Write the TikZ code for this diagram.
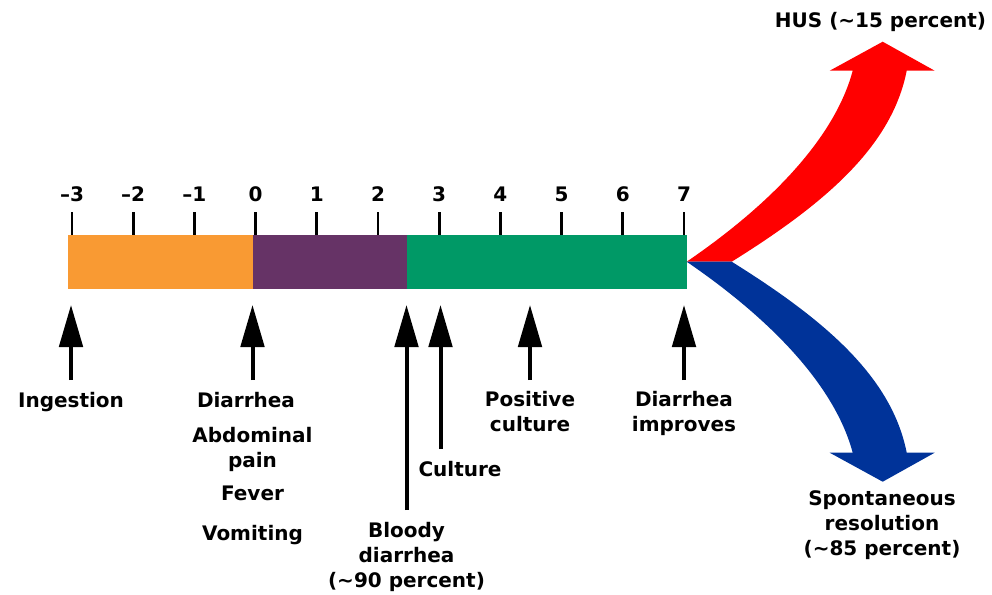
\documentclass[tikz,border=0pt]{standalone}
\usepackage{fontspec}
\setmainfont{DejaVu Sans}
\usepackage{xcolor}
\usepackage{tikz}
\usetikzlibrary{arrows.meta, positioning}

\definecolor{incubation}{HTML}{F99A33}
\definecolor{illness}{HTML}{663366}
\definecolor{recovery}{HTML}{009966}
\definecolor{husred}{HTML}{FF0000}
\definecolor{resblue}{HTML}{003399}

\begin{document}
\begin{tikzpicture}[
        x=0.75pt, y=-0.75pt,
        day/.style={font=\bfseries\fontsize{15}{18.4}\selectfont, inner sep=0pt, anchor=base},
        event/.style={font=\bfseries\fontsize{15}{18.4}\selectfont, align=center, inner sep=0pt, anchor=base},
        tickmark/.style={line width=2.2pt},
        uparrow/.style={line width=3pt, -{Triangle[length=31.5pt, width=17.5pt]}}
    ]
        \useasboundingbox (0,0) rectangle (992,594);

        % timeline bar
        \fill[incubation] (68,235) rectangle (253,288.5);
        \fill[illness] (253,235) rectangle (406.5,288.5);
        \fill[recovery] (406.5,235) rectangle (686.7,288.5);

        \foreach \n in {-3,...,7} {
            \pgfmathsetmacro{\xd}{72+61.2*(\n+3)}
            \node[day] (day\n) at (\xd,201.5) {\ifnum\n<0 –\number\numexpr-\n\relax\else\n\fi};
            \draw[tickmark] (\xd,212) -- (\xd,235);
        }

        % events below the bar (multi-line labels sit on their last line)
        \coordinate (ingest_tail) at (71,380);
        \coordinate (ingest_tip) at (71,305);
        \coordinate (onset_tail) at (252.5,380);
        \coordinate (onset_tip) at (252.5,305);
        \coordinate (bloody_tail) at (406.5,510);
        \coordinate (bloody_tip) at (406.5,305);
        \coordinate (culture_tail) at (440.5,449);
        \coordinate (culture_tip) at (440.5,305);
        \coordinate (positive_tail) at (530,380);
        \coordinate (positive_tip) at (530,305);
        \coordinate (improve_tail) at (684,380);
        \coordinate (improve_tip) at (684,305);

        \node[event] (ingestion) at (71,407) {Ingestion};
        \node[event] (diarrhea) at (246,407) {Diarrhea};
        \node[event] (abdominal) at (252.5,467) {Abdominal\\pain};
        \node[event] (fever) at (252.5,500) {Fever};
        \node[event] (vomiting) at (252.5,540) {Vomiting};
        \node[event] (bloody) at (406.5,587) {Bloody\\diarrhea\\(\char"007E 90 percent)};
        \node[event] (culture) at (460,476) {Culture};
        \node[event] (positive) at (530,431) {Positive\\culture};
        \node[event] (improves) at (684,431) {Diarrhea\\improves};

        \draw[uparrow] (ingest_tail) -- (ingest_tip);
        \draw[uparrow] (onset_tail) -- (onset_tip);
        \draw[uparrow] (bloody_tail) -- (bloody_tip);
        \draw[uparrow] (culture_tail) -- (culture_tip);
        \draw[uparrow] (positive_tail) -- (positive_tip);
        \draw[uparrow] (improve_tail) -- (improve_tip);

        % outcomes
        \coordinate (fork) at (686.7,261.7);
        \begin{scope}[shift={(fork)}]
            \fill[husred] (0,0) -- (45,0) .. controls (138,-58) and (205,-115) .. (220,-191)
                -- (248,-191) -- (196,-220) -- (143,-191) -- (166,-191)
                .. controls (150,-131) and (95,-65) .. (0,0) -- cycle;
        \end{scope}
        \begin{scope}[shift={(fork)}, yscale=-1]
            \fill[resblue] (0,0) -- (45,0) .. controls (138,-58) and (205,-115) .. (220,-191)
                -- (248,-191) -- (196,-220) -- (143,-191) -- (166,-191)
                .. controls (150,-131) and (95,-65) .. (0,0) -- cycle;
        \end{scope}

        \node[event] (hus) at (880.5,27) {HUS (\char"007E 15 percent)};
        \node[event] (resolution) at (882,555) {Spontaneous\\resolution\\(\char"007E 85 percent)};

    \end{tikzpicture}
\end{document}
